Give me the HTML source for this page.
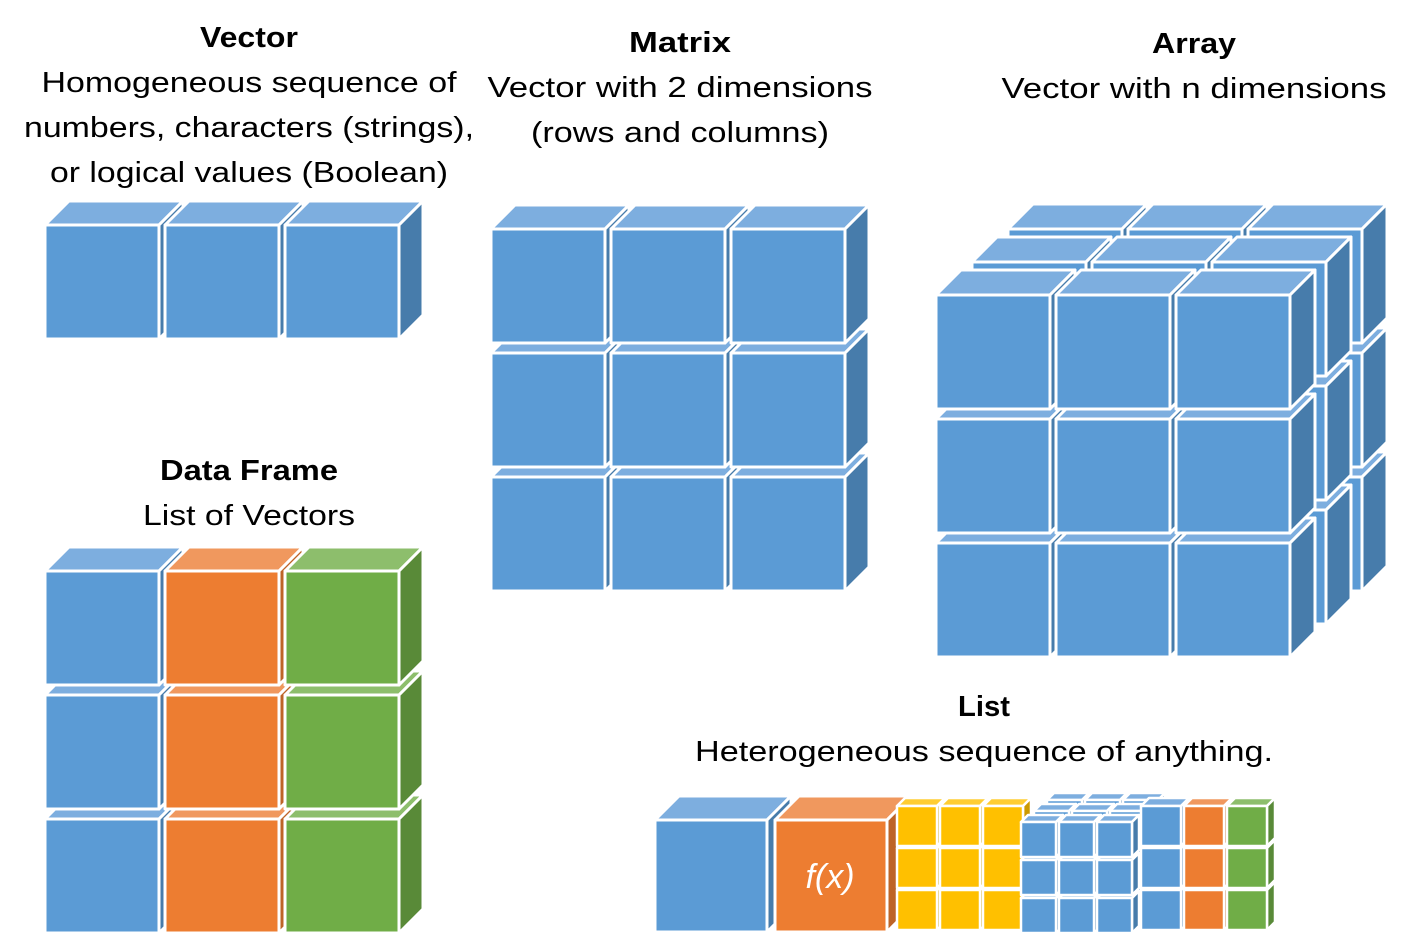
<!DOCTYPE html>
<html><head><meta charset="utf-8">
<style>
html,body{margin:0;padding:0;background:#fff;width:1411px;height:935px;overflow:hidden}
svg{display:block}
text{font-family:"Liberation Sans",sans-serif;fill:#000}
</style></head>
<body>
<svg id="s" width="1411" height="935" viewBox="0 0 1411 935" xmlns="http://www.w3.org/2000/svg">
<g>
<text x="249" y="47" text-anchor="middle" font-weight="bold" font-size="29" textLength="98" lengthAdjust="spacingAndGlyphs">Vector</text>
<text x="249" y="92" text-anchor="middle" font-size="29" textLength="415" lengthAdjust="spacingAndGlyphs">Homogeneous sequence of</text>
<text x="249" y="137" text-anchor="middle" font-size="29" textLength="450" lengthAdjust="spacingAndGlyphs">numbers, characters (strings),</text>
<text x="249" y="182" text-anchor="middle" font-size="29" textLength="398" lengthAdjust="spacingAndGlyphs">or logical values (Boolean)</text>
</g>
<g>
<text x="680" y="52" text-anchor="middle" font-weight="bold" font-size="29" textLength="102" lengthAdjust="spacingAndGlyphs">Matrix</text>
<text x="680" y="97" text-anchor="middle" font-size="29" textLength="385" lengthAdjust="spacingAndGlyphs">Vector with 2 dimensions</text>
<text x="680" y="142" text-anchor="middle" font-size="29" textLength="298" lengthAdjust="spacingAndGlyphs">(rows and columns)</text>
</g>
<g>
<text x="1194" y="53" text-anchor="middle" font-weight="bold" font-size="29" textLength="84" lengthAdjust="spacingAndGlyphs">Array</text>
<text x="1194" y="98" text-anchor="middle" font-size="29" textLength="385" lengthAdjust="spacingAndGlyphs">Vector with n dimensions</text>
</g>
<g>
<text x="249" y="480" text-anchor="middle" font-weight="bold" font-size="29" textLength="178" lengthAdjust="spacingAndGlyphs">Data Frame</text>
<text x="249" y="525" text-anchor="middle" font-size="29" textLength="212" lengthAdjust="spacingAndGlyphs">List of Vectors</text>
</g>
<g>
<text x="984" y="716" text-anchor="middle" font-weight="bold" font-size="29" textLength="52" lengthAdjust="spacingAndGlyphs">List</text>
<text x="984" y="761" text-anchor="middle" font-size="29" textLength="578" lengthAdjust="spacingAndGlyphs">Heterogeneous sequence of anything.</text>
</g>
<g id="cubes"></g>
</svg>
<script>
const C={b:["#5B9BD5","#7DAEDF","#477CAB"],o:["#ED7D31","#F0985E","#BE6427"],g:["#70AD47","#8DBE6C","#598A38"],y:["#FFC000","#FFCD33","#CC9A00"]};
const G=document.getElementById('cubes');
const NS='http://www.w3.org/2000/svg';
function poly(pts,fill,sw){const p=document.createElementNS(NS,'polygon');p.setAttribute('points',pts.map(a=>a.join(',')).join(' '));p.setAttribute('fill',fill);p.setAttribute('stroke','#fff');p.setAttribute('stroke-width',sw);p.setAttribute('stroke-linejoin','round');return p;}
function cube(x,y,s,d,c,name,sw){
  sw=sw||3;const g=document.createElementNS(NS,'g');
  
  
  const col=C[c];
  g.appendChild(poly([[x,y],[x+d,y-d],[x+s+d,y-d],[x+s,y]],col[1],sw));
  g.appendChild(poly([[x+s,y],[x+s+d,y-d],[x+s+d,y+s-d],[x+s,y+s]],col[2],sw));
  g.appendChild(poly([[x,y],[x+s,y],[x+s,y+s],[x,y+s]],col[0],sw));
  G.appendChild(g);return g;
}
// Vector
for(let i=0;i<3;i++)cube(45+120*i,225,114,24,'b','vector-cube');
// Matrix (bottom rows first)
for(let r=2;r>=0;r--)for(let i=0;i<3;i++)cube(491+120*i,229+124*r,114,24,'b','matrix-cube');
// Array: 3 layers back to front
for(let L=2;L>=0;L--)for(let r=2;r>=0;r--)for(let i=0;i<3;i++)cube(936+36*L+120*i,295-33*L+124*r,114,25,'b','array-cube');
// Data frame
const dfc=['b','o','g'];
for(let r=2;r>=0;r--)for(let i=0;i<3;i++)cube(45+120*i,571+124*r,114,24,dfc[i],'data-frame-cell');
// List
cube(655,820,112,24,'b','list-vector-cube');
cube(775,820,112,24,'o','list-function-cube');
const ft=document.createElementNS(NS,'text');
ft.setAttribute('x','830');ft.setAttribute('y','888');ft.setAttribute('text-anchor','middle');
ft.setAttribute('font-size','34');ft.setAttribute('font-style','italic');ft.setAttribute('fill','#fff');ft.style.fill='#fff';
ft.textContent='f(x)';


G.appendChild(ft);
for(let r=2;r>=0;r--)for(let i=0;i<3;i++)cube(897+43*i,806+42*r,40,8,'y','list-matrix-cell',2.5);
for(let L=2;L>=0;L--)for(let r=2;r>=0;r--)for(let i=0;i<3;i++)cube(1021+13*L+38*i,822-11*L+38*r,35,7,'b','list-array-cell',2.5);
for(let r=2;r>=0;r--)for(let i=0;i<3;i++)cube(1141+43*i,806+42*r,40,8,dfc[i],'list-data-frame-cell',2.5);
</script>
</body></html>
